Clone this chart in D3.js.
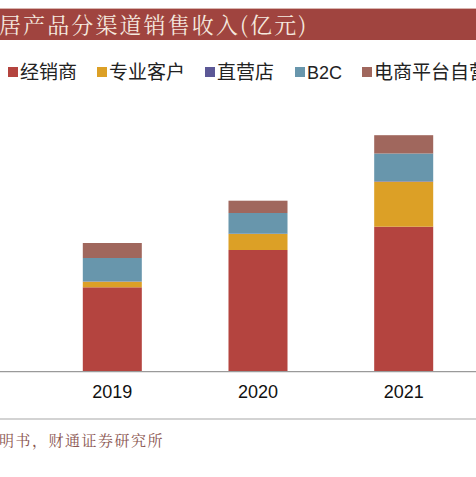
<!DOCTYPE html>
<html>
<head>
<meta charset="utf-8">
<script src="https://cdn.jsdelivr.net/npm/d3@7/dist/d3.min.js"></script>
<style>
  html, body { margin: 0; padding: 0; background: #fff; }
  svg { display: block; }
</style>
</head>
<body>
<script>
// ---- data (亿元) ----
const years = ["2019", "2020", "2021"];
const seriesNames = ["经销商", "专业客户", "直营店", "B2C", "电商平台自营"];
const dealer   = [8.44, 12.17, 14.50];
const pro      = [0.56, 1.60, 4.50];
const store    = [0.03, 0.03, 0.05];
const b2c      = [2.34, 2.07, 2.77];
const ecom     = [1.50, 1.23, 1.83];
const seriesValues = [dealer, pro, store, b2c, ecom];
const colors = ["#B4443F", "#DCA026", "#5C5896", "#6896AC", "#A0675D"];
const titleText = "居产品分渠道销售收入(亿元)";
const sourceText = "明书，财通证券研究所";

const W = 476, H = 477;
const svg = d3.select("body").append("svg").attr("width", W).attr("height", H);

// title band
svg.append("rect").attr("x", 0).attr("y", 8).attr("width", W).attr("height", 1)
  .attr("fill", "#d9b5b0");
svg.append("rect").attr("x", 0).attr("y", 9).attr("width", W).attr("height", 31)
  .attr("fill", "#A0443F");
svg.append("text").attr("x", -1).attr("y", 33)
  .attr("font-family", "'Noto Serif CJK SC','Noto Sans CJK SC',serif")
  .attr("font-size", 22).attr("letter-spacing", 2.1)
  .attr("fill", "#F5E9DF").text(titleText);

// legend
const legendX = [8, 97, 205, 295, 362];
const lg = svg.append("g");
seriesNames.forEach((n, i) => {
  lg.append("rect").attr("x", legendX[i]).attr("y", 67).attr("width", 10).attr("height", 10)
    .attr("fill", colors[i]);
  lg.append("text").attr("x", legendX[i] + 12).attr("y", 79)
    .attr("font-family", i === 3 ? "'Liberation Sans',Arial,sans-serif" : "'Noto Sans CJK SC',sans-serif")
    .attr("font-size", i === 3 ? 18 : 19).attr("fill", "#222").text(n);
});

// scales
const step = 145.7, center = 258;
const x = d3.scaleBand().domain(years)
  .range([center - 1.5 * step, center + 1.5 * step])
  .paddingInner(0.595).paddingOuter(0.2975);
const y = d3.scaleLinear().domain([0, 25]).range([371.7, 121.7]);

const table = years.map((yr, i) => {
  const o = { year: yr };
  seriesNames.forEach((n, j) => o[n] = seriesValues[j][i]);
  return o;
});
const stacked = d3.stack().keys(seriesNames)(table);

svg.append("g").selectAll("g").data(stacked).join("g")
  .attr("fill", (d, i) => colors[i])
  .selectAll("rect").data(d => d).join("rect")
  .attr("x", d => x(d.data.year))
  .attr("width", x.bandwidth())
  .attr("y", d => y(d[1]))
  .attr("height", d => y(d[0]) - y(d[1]));

// x axis
const xAxis = svg.append("g").attr("transform", `translate(0,${y(0)})`)
  .call(d3.axisBottom(x).tickSize(0).tickPadding(14));
xAxis.select(".domain").remove();
xAxis.selectAll("text").attr("font-family", "'Liberation Sans',Arial,sans-serif")
  .attr("font-size", 18).attr("fill", "#111");
svg.append("line").attr("x1", 0).attr("x2", W).attr("y1", y(0)).attr("y2", y(0))
  .attr("stroke", "#9a9a9a").attr("stroke-width", 1.2);

// separator and source
svg.append("line").attr("x1", 0).attr("x2", W).attr("y1", 419).attr("y2", 419)
  .attr("stroke", "#a8a8a8").attr("stroke-width", 1.2);
svg.append("text").attr("x", -1).attr("y", 446)
  .attr("font-family", "'Noto Serif CJK SC','Noto Sans CJK SC',serif")
  .attr("font-size", 15).attr("letter-spacing", 1.5)
  .attr("fill", "#8A5550").text(sourceText);
</script>
</body>
</html>
